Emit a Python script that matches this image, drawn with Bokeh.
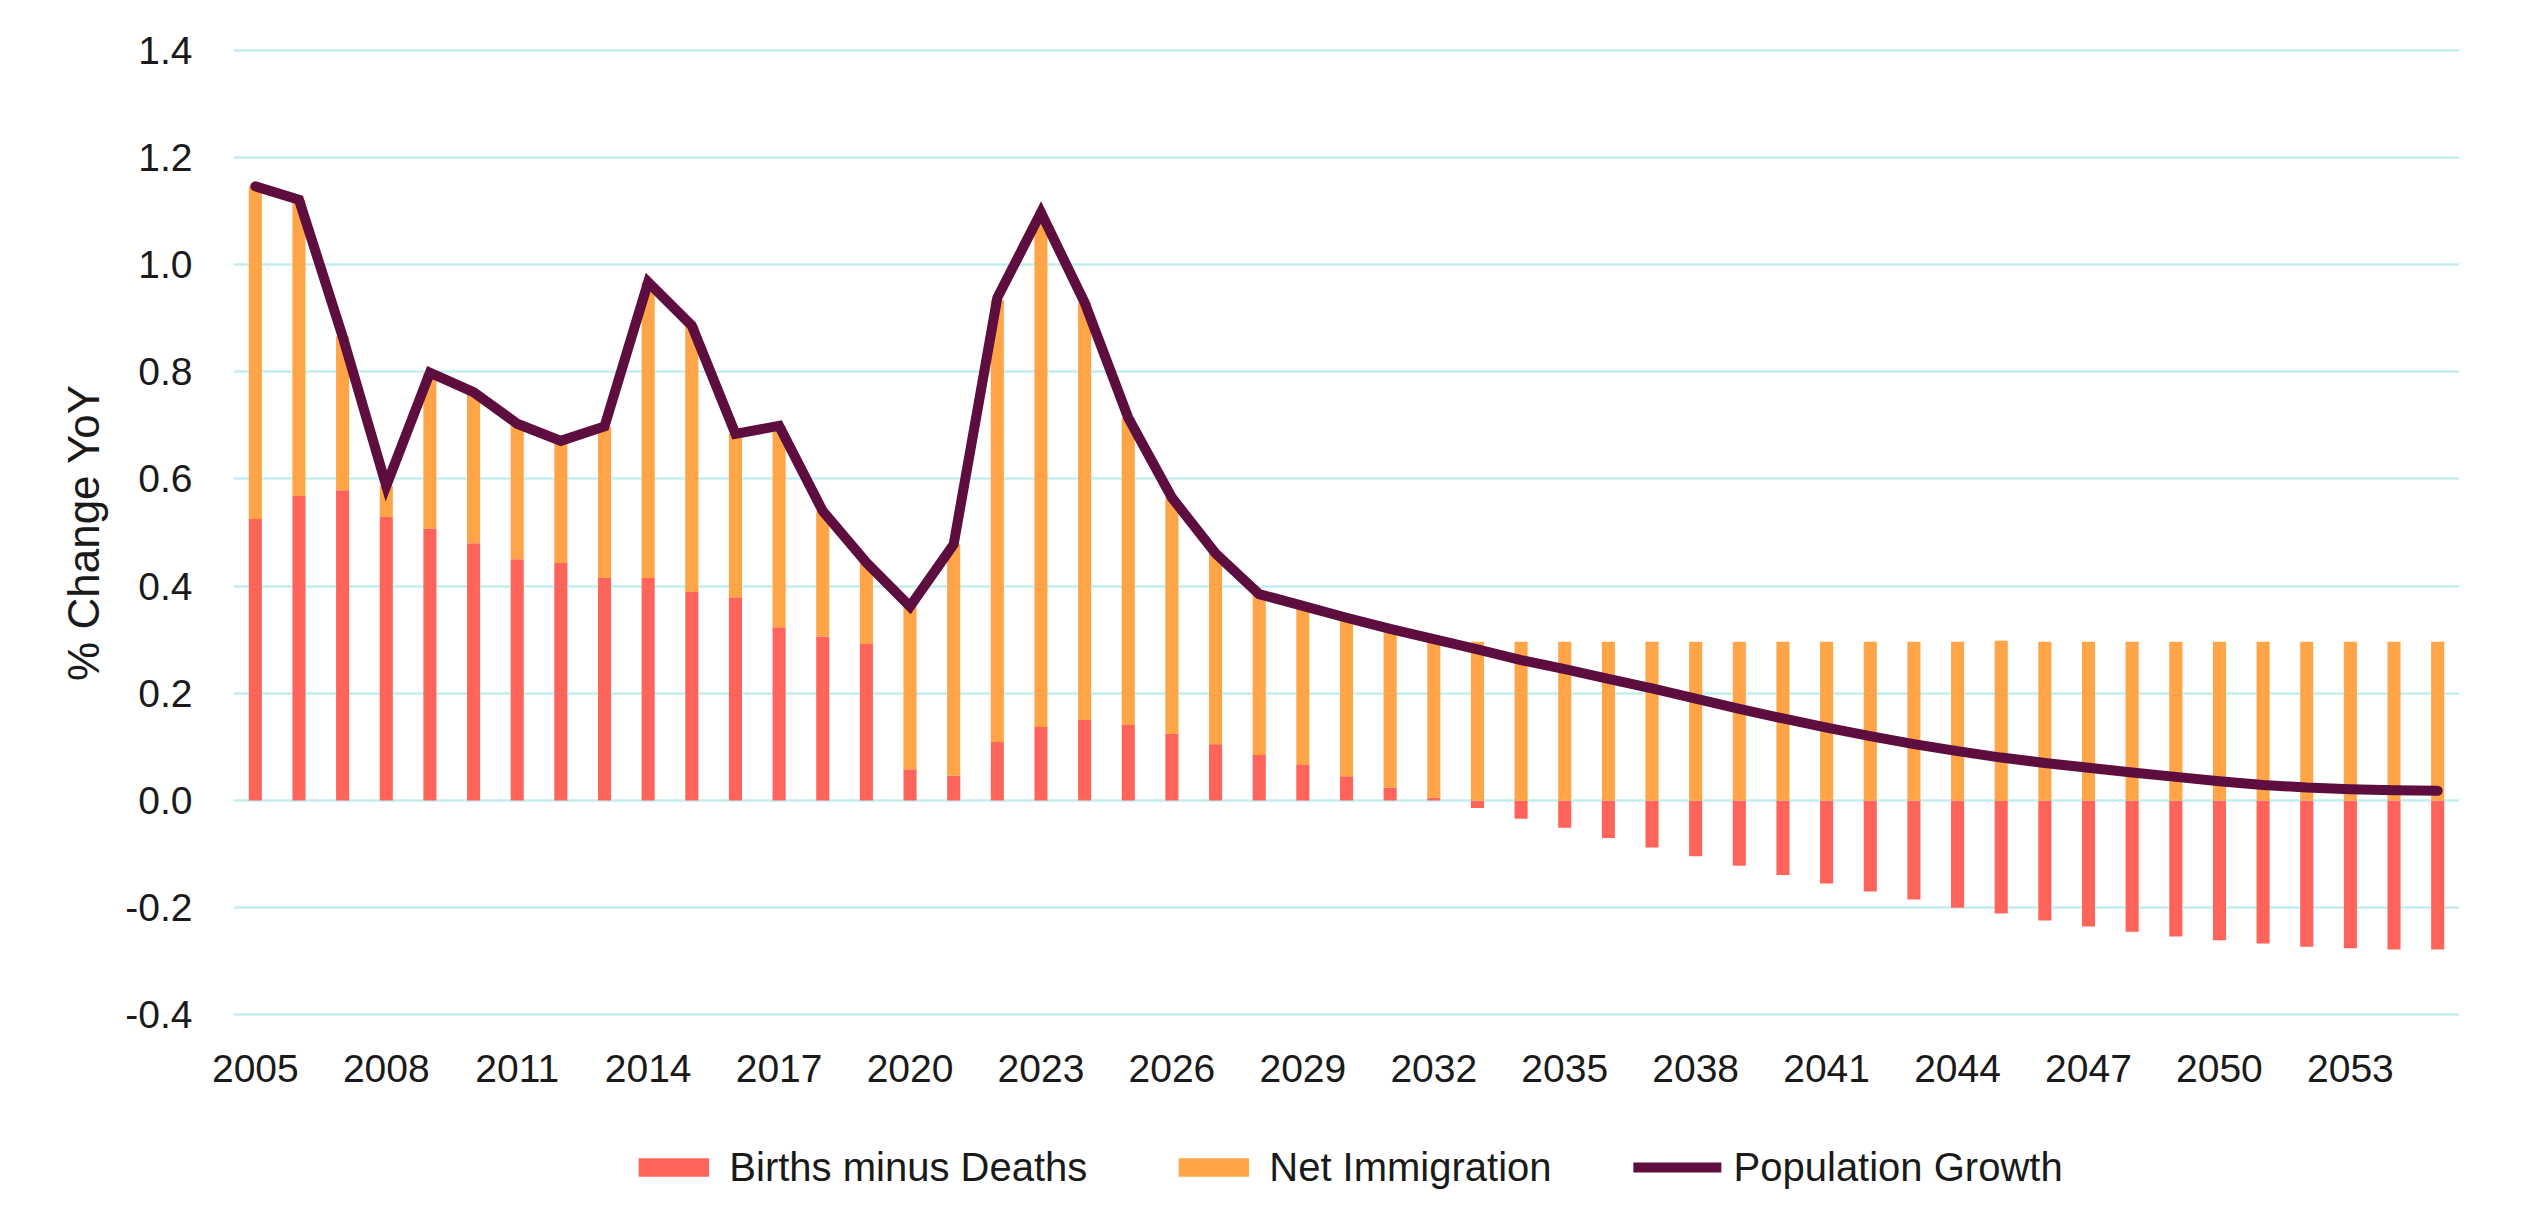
import numpy as np
from bokeh.plotting import figure
from bokeh.layouts import column
from bokeh.models import (Range1d, FixedTicker, NumeralTickFormatter, Legend,
                          LegendItem, ColumnDataSource)
from bokeh.embed import file_html
from bokeh.resources import INLINE

# ---------------- data ----------------
years = list(range(2005, 2056))

births = [0.525, 0.568, 0.579, 0.529, 0.507, 0.480, 0.450, 0.443, 0.415, 0.415,
          0.389, 0.379, 0.323, 0.306, 0.292, 0.058, 0.046, 0.109, 0.137, 0.150,
          0.141, 0.124, 0.105, 0.085, 0.066, 0.045, 0.024, 0.005, -0.014, -0.034,
          -0.051, -0.070, -0.088, -0.104, -0.122, -0.139, -0.155, -0.170, -0.185, -0.200,
          -0.211, -0.224, -0.235, -0.245, -0.254, -0.261, -0.267, -0.273, -0.276, -0.278,
          -0.278]

immigration = [0.621, 0.553, 0.287, 0.058, 0.291, 0.282, 0.253, 0.228, 0.283, 0.552,
               0.497, 0.305, 0.376, 0.234, 0.152, 0.304, 0.432, 0.825, 0.951, 0.779,
               0.573, 0.441, 0.356, 0.300, 0.297, 0.296, 0.296, 0.296, 0.296, 0.296,
               0.296, 0.296, 0.296, 0.296, 0.296, 0.296, 0.296, 0.296, 0.296, 0.296,
               0.298, 0.296, 0.296, 0.296, 0.296, 0.296, 0.296, 0.296, 0.296, 0.296,
               0.296]

growth = [1.146, 1.121, 0.866, 0.587, 0.798, 0.762, 0.703, 0.671, 0.698, 0.967,
          0.886, 0.684, 0.699, 0.540, 0.444, 0.362, 0.478, 0.938, 1.097, 0.929,
          0.714, 0.565, 0.461, 0.385, 0.363, 0.341, 0.320, 0.301, 0.282, 0.262,
          0.245, 0.227, 0.209, 0.190, 0.171, 0.153, 0.136, 0.120, 0.105, 0.092,
          0.080, 0.070, 0.061, 0.052, 0.044, 0.036, 0.029, 0.024, 0.021, 0.019,
          0.018]

x_ticks = list(range(2005, 2054, 3))
y_ticks = [-0.4, -0.2, 0.0, 0.2, 0.4, 0.6, 0.8, 1.0, 1.2, 1.4]

series_labels = ["Births minus Deaths", "Net Immigration", "Population Growth"]
y_label = "% Change YoY"

# ---------------- styles ----------------
RED = "#FF645A"
ORANGE = "#FFA548"
MAROON = "#5E0D3F"
GRID = "#C4EFF2"
TEXT = "#1A1A1A"
FONT = "Liberation Sans"

b = np.array(births)
im = np.array(immigration)
imm_bottom = np.maximum(b, 0.0)

src = ColumnDataSource(dict(
    year=years,
    births=births,
    zero=[0.0] * len(years),
    imm_bottom=imm_bottom.tolist(),
    imm_top=(imm_bottom + im).tolist(),
    growth=growth,
))

# ---------------- main chart ----------------
p = figure(frame_width=2226, frame_height=970,
           x_range=Range1d(2004.5, 2055.5), y_range=Range1d(-0.405, 1.405),
           output_backend="svg", toolbar_location=None,
           min_border_left=233, min_border_top=47, min_border_right=50,
           min_border_bottom=105)
p.outline_line_color = None
p.background_fill_color = "white"

p.vbar(x="year", width=0.3, bottom="zero", top="births", source=src,
       fill_color=RED, line_color=None)
p.vbar(x="year", width=0.3, bottom="imm_bottom", top="imm_top", source=src,
       fill_color=ORANGE, line_color=None)
p.line(x="year", y="growth", source=src, line_color=MAROON, line_width=10,
       line_join="miter", line_cap="round")

p.xgrid.visible = False
p.ygrid.grid_line_color = GRID
p.ygrid.grid_line_width = 2.3

p.xaxis.ticker = FixedTicker(ticks=x_ticks, minor_ticks=[])
p.yaxis.ticker = FixedTicker(ticks=y_ticks, minor_ticks=[])
p.yaxis.formatter = NumeralTickFormatter(format="0.0")

for ax in (p.xaxis[0], p.yaxis[0]):
    ax.axis_line_color = None
    ax.major_tick_line_color = None
    ax.minor_tick_line_color = None
    ax.major_tick_out = 0
    ax.major_tick_in = 0
    ax.major_label_text_font = FONT
    ax.major_label_text_font_size = "39px"
    ax.major_label_text_color = TEXT

p.xaxis.major_label_standoff = 37
p.yaxis.major_label_standoff = 41
p.yaxis.axis_label = y_label
p.yaxis.axis_label_text_font = FONT
p.yaxis.axis_label_text_font_size = "44px"
p.yaxis.axis_label_text_font_style = "normal"
p.yaxis.axis_label_text_color = TEXT
p.yaxis.axis_label_standoff = 14

# ---------------- legend strip ----------------
# Same series with the same styles; the strip's y range lies well above the
# data, so the marks stay out of view and only the legend entries show.
leg = figure(width=2509, height=89, output_backend="svg", toolbar_location=None,
             x_range=Range1d(2004.5, 2055.5), y_range=Range1d(20, 21),
             x_axis_location=None, y_axis_location=None,
             min_border_left=34, min_border_right=0, min_border_top=0,
             min_border_bottom=0)
leg.outline_line_color = None
leg.xgrid.visible = False
leg.ygrid.visible = False
lb = leg.vbar(x="year", width=0.3, bottom="zero", top="births", source=src,
              fill_color=RED, line_color=None)
li = leg.vbar(x="year", width=0.3, bottom="imm_bottom", top="imm_top", source=src,
              fill_color=ORANGE, line_color=None)
lg = leg.line(x="year", y="growth", source=src, line_color=MAROON, line_width=10,
              line_cap="round")

legend = Legend(items=[LegendItem(label=series_labels[0], renderers=[lb]),
                       LegendItem(label=series_labels[1], renderers=[li]),
                       LegendItem(label=series_labels[2], renderers=[lg])],
                orientation="horizontal", location="center",
                glyph_width=88, glyph_height=23, label_standoff=12, spacing=82,
                padding=6, margin=0, label_text_font=FONT,
                label_text_font_size="40px", label_text_color=TEXT,
                border_line_color=None, background_fill_alpha=0.0)
leg.add_layout(legend, "center")

layout = column(p, leg, spacing=0)
open("out.html", "w").write(file_html(layout, INLINE))
